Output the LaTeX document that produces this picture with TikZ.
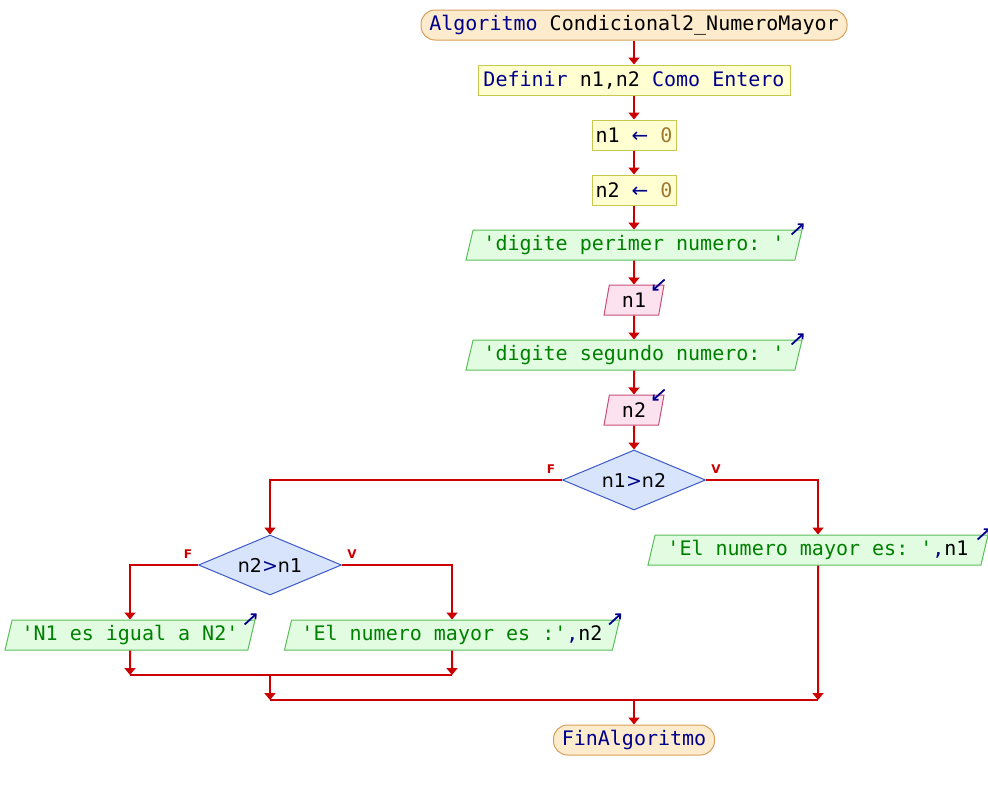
\documentclass[tikz,border=0pt]{standalone}
\usepackage{fontspec}
\setmonofont{DejaVu Sans Mono}
\newfontfamily\dvsans{DejaVu Sans}
\usetikzlibrary{shapes.geometric,arrows.meta,calc}
\definecolor{flow}{RGB}{204,0,0}
\definecolor{kw}{RGB}{0,0,140}
\definecolor{str}{RGB}{0,128,0}
\definecolor{num}{RGB}{160,120,48}
\definecolor{termfill}{RGB}{253,235,205}
\definecolor{termdraw}{RGB}{215,160,90}
\definecolor{procfill}{RGB}{255,255,210}
\definecolor{procdraw}{RGB}{200,200,80}
\definecolor{outfill}{RGB}{225,252,225}
\definecolor{outdraw}{RGB}{90,190,90}
\definecolor{infill}{RGB}{252,225,238}
\definecolor{indraw}{RGB}{200,80,120}
\definecolor{decfill}{RGB}{215,228,252}
\definecolor{decdraw}{RGB}{60,90,200}
\tikzset{
  base/.style={font=\ttfamily\fontsize{20}{24}\selectfont, inner sep=0pt, minimum height=30pt, line width=1pt},
  term/.style={base, rectangle, rounded corners=14pt, fill=termfill, draw=termdraw},
  proc/.style={base, rectangle, fill=procfill, draw=procdraw},
  outp/.style={base, trapezium, trapezium left angle=70, trapezium right angle=110, trapezium stretches body, fill=outfill, draw=outdraw},
  inp/.style={base, trapezium, trapezium left angle=70, trapezium right angle=110, trapezium stretches body, fill=infill, draw=indraw},
  dec/.style={diamond, aspect=2.4, inner sep=0pt, fill=decfill, draw=decdraw, line width=1pt, minimum width=143pt, minimum height=60pt, font=\dvsans\fontsize{19}{22}\selectfont},
  flow/.style={draw=flow, line width=2pt, -{Triangle[length=7pt,width=11pt]}},
  flowline/.style={draw=flow, line width=2pt},
  lab/.style={text=flow, font=\dvsans\bfseries\fontsize{12}{14}\selectfont, inner sep=0pt},
  icon/.style={draw=kw, line width=1.8pt, -{Straight Barb[length=3.5pt,width=7pt]}}
}
\begin{document}
\begin{tikzpicture}[x=1pt,y=-1pt]
\useasboundingbox (0,0) rectangle (988,790);
\node[term, minimum width=426pt] (start) at (634,25) {{\color{kw}Algoritmo} Condicional2\_NumeroMayor};
\node[proc, minimum width=312pt] (def) at (634,80) {{\color{kw}Definir} n1,n2 {\color{kw}Como Entero}};
\node[proc, minimum width=84pt] (a1) at (634,135) {n1 {\color{kw}\dvsans ←} {\color{num}0}};
\node[proc, minimum width=84pt] (a2) at (634,190) {n2 {\color{kw}\dvsans ←} {\color{num}0}};
\node[outp, minimum width=336pt] (o1) at (634,245) {\color{str}'digite perimer numero: '};
\node[inp, minimum width=60pt] (i1) at (634,300) {n1};
\node[outp, minimum width=336pt] (o2) at (634,355) {\color{str}'digite segundo numero: '};
\node[inp, minimum width=60pt] (i2) at (634,410) {n2};
\node[dec] (d1) at (634,480) {n1{\color{kw}>}n2};
\node[dec] (d2) at (270,565) {n2{\color{kw}>}n1};
\node[outp, minimum width=340pt] (r1) at (818,550) {{\color{str}'El numero mayor es: '}{\color{kw},}n1};
\node[outp, minimum width=250pt] (l1) at (130,635) {\color{str}'N1 es igual a N2'};
\node[outp, minimum width=335pt] (l2) at (452,635) {{\color{str}'El numero mayor es :'}{\color{kw},}n2};
\node[term, minimum width=161pt] (end) at (634,740) {\color{kw}FinAlgoritmo};
\node[lab] (f1) at (551,469) {F};
\node[lab] (v1) at (716,469) {V};
\node[lab] (f2) at (188,554) {F};
\node[lab] (v2) at (352,554) {V};
\coordinate (j1a) at (130,675);
\coordinate (j1b) at (452,675);
\coordinate (j1c) at (270,675);
\coordinate (j2a) at (270,700);
\coordinate (j2b) at (818,700);
\coordinate (j2c) at (634,700);
\draw[flow] (start) -- (def);
\draw[flow] (def) -- (a1);
\draw[flow] (a1) -- (a2);
\draw[flow] (a2) -- (o1);
\draw[flow] (o1) -- (i1);
\draw[flow] (i1) -- (o2);
\draw[flow] (o2) -- (i2);
\draw[flow] (i2) -- (d1);
\draw[flow] (d1.west) -| (d2.north);
\draw[flow] (d1.east) -| (r1.north);
\draw[flow] (d2.west) -| (l1.north);
\draw[flow] (d2.east) -| (l2.north);
\draw[flow] (l1.south) -- (j1a);
\draw[flow] (l2.south) -- (j1b);
\draw[flowline] (j1a) -- (j1b);
\draw[flow] (j1c) -- (j2a);
\draw[flow] (r1.south) -- (j2b);
\draw[flowline] (j2a) -- (j2b);
\draw[flow] (j2c) -- (end.north);
\foreach \n in {o1,o2,r1,l1,l2}
  \draw[icon] ($(\n.top right corner)+(-11,5)$) -- ++(12,-11);
\foreach \n in {i1,i2}
  \draw[icon] ($(\n.top right corner)+(0,-5)$) -- ++(-12,11);
\end{tikzpicture}
\end{document}
